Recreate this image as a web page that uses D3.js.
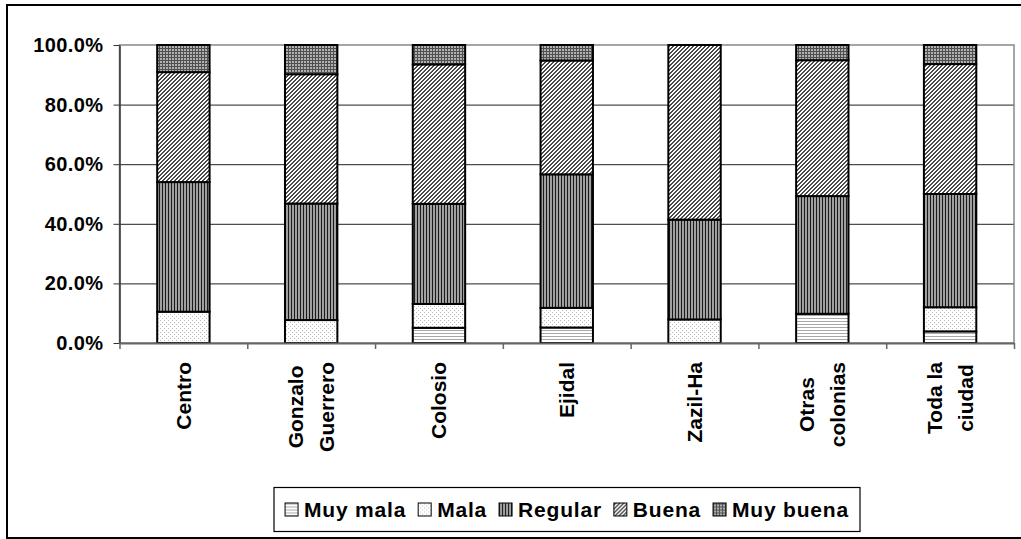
<!DOCTYPE html>
<html>
<head>
<meta charset="utf-8">
<script src="https://cdn.jsdelivr.net/npm/d3@7"></script>
<style>
  body { margin: 0; background: #fff; }
  svg, svg text { font-family: "Liberation Sans", Arial, sans-serif; }
</style>
</head>
<body>
<div id="chart"></div>
<script>
// Values in percent
const categories = ["Centro", "Gonzalo Guerrero", "Colosio", "Ejidal", "Zazil-Ha", "Otras colonias", "Toda la ciudad"];
const categoryLines = [["Centro"], ["Gonzalo", "Guerrero"], ["Colosio"], ["Ejidal"], ["Zazil-Ha"], ["Otras", "colonias"], ["Toda la", "ciudad"]];
const seriesNames = ["Muy mala", "Mala", "Regular", "Buena", "Muy buena"];
const muyMala = [0, 0, 5.1, 5.2, 0, 9.8, 3.9];
const mala = [10.5, 7.7, 8.0, 6.6, 7.9, 0, 8.1];
const regular = [43.5, 39.1, 33.6, 44.8, 33.5, 39.5, 38.0];
const buena = [36.9, 43.4, 46.8, 38.2, 58.6, 45.6, 43.6];
const muyBuena = [9.1, 9.8, 6.5, 5.2, 0, 5.1, 6.4];
const yTicks = [0, 0.2, 0.4, 0.6, 0.8, 1.0];

const W = 1021, H = 539;
const plot = { left: 119.5, right: 1014, top: 45, bottom: 343 };
const FONT = "'Liberation Sans', Arial, sans-serif";

const svg = d3.select("#chart").append("svg").attr("width", W).attr("height", H);
const defs = svg.append("defs");

// Excel-like fill patterns, one per series
function makePattern(id, w, h, bg, pixels, color) {
  const p = defs.append("pattern").attr("id", id)
    .attr("patternUnits", "userSpaceOnUse").attr("width", w).attr("height", h);
  p.append("rect").attr("width", w).attr("height", h).attr("fill", bg);
  pixels.forEach(function (px) {
    p.append("rect").attr("x", px[0]).attr("y", px[1])
      .attr("width", px[2] || 1).attr("height", px[3] || 1)
      .attr("fill", color).attr("shape-rendering", "crispEdges");
  });
}
makePattern("p0", 4, 3, "#fff", [[0, 0, 4, 1]], "#a8a8a8");
makePattern("p1", 4, 4, "#fff", [[0, 0], [2, 2]], "#b8b8b8");
makePattern("p2", 3, 4, "#a0a0a0", [[0, 0, 1, 4]], "#1a1a1a");
makePattern("p3", 4, 4, "#fff", [[0, 3], [1, 2], [2, 1], [3, 0], [0, 2], [1, 1], [2, 0], [3, 3]], "#4a4a4a");
makePattern("p4", 3, 3, "#b0b0b0", [[0, 0, 3, 1], [0, 0, 1, 3]], "#505050");
const fills = ["url(#p0)", "url(#p1)", "url(#p2)", "url(#p3)", "url(#p4)"];

// outer frame
svg.append("rect").attr("x", 7).attr("y", 5).attr("width", 1030).attr("height", 533)
  .attr("fill", "none").attr("stroke", "#000").attr("stroke-width", 2);

const x = d3.scaleBand().domain(categories).range([plot.left, plot.right])
  .paddingInner(0.59).paddingOuter(0.295);
const xEdge = d3.scaleLinear().domain([0, categories.length]).range([plot.left, plot.right]);
const y = d3.scaleLinear().domain([0, 1]).range([plot.bottom, plot.top]);

// gridlines
svg.append("g").attr("class", "grid")
  .attr("transform", "translate(" + plot.left + ",0)")
  .call(d3.axisLeft(y).tickValues(yTicks.slice(1, -1)).tickSize(-(plot.right - plot.left)).tickFormat(""))
  .call(function (g) { g.select(".domain").remove(); })
  .selectAll("line").attr("stroke", "#222").attr("stroke-width", 1);

// plot area border (top/right gray)
svg.append("rect").attr("x", plot.left).attr("y", plot.top)
  .attr("width", plot.right - plot.left).attr("height", plot.bottom - plot.top)
  .attr("fill", "none").attr("stroke", "#888").attr("stroke-width", 1.5);

// stacked data
const table = categories.map(function (c, i) {
  return { cat: c, "Muy mala": muyMala[i], "Mala": mala[i], "Regular": regular[i], "Buena": buena[i], "Muy buena": muyBuena[i] };
});
const stacked = d3.stack().keys(seriesNames)(table);

svg.append("g").selectAll("g").data(stacked).enter().append("g")
  .attr("fill", function (d, i) { return fills[i]; })
  .selectAll("rect").data(function (d) { return d.filter(function (s) { return s[1] - s[0] > 0; }); })
  .enter().append("rect")
  .attr("x", function (d) { return x(d.data.cat); })
  .attr("y", function (d) { return y(d[1] / 100); })
  .attr("width", x.bandwidth())
  .attr("height", function (d) { return y(d[0] / 100) - y(d[1] / 100); })
  .attr("stroke", "#000").attr("stroke-width", 2);

// y axis
const yAxis = svg.append("g").attr("transform", "translate(" + plot.left + ",0)")
  .call(d3.axisLeft(y).tickValues(yTicks).tickFormat(d3.format(".1%")).tickSize(6).tickSizeOuter(0).tickPadding(10));
yAxis.attr("font-family", FONT);
yAxis.select(".domain").attr("stroke", "#333").attr("stroke-width", 1.5);
yAxis.selectAll("line").attr("stroke", "#333");
yAxis.selectAll("text").attr("font-size", 20).attr("font-weight", "bold").attr("fill", "#000")
  .attr("font-family", FONT).attr("letter-spacing", 0.4);

// x axis ticks at category boundaries
const xAxis = svg.append("g").attr("transform", "translate(0," + plot.bottom + ")")
  .call(d3.axisBottom(xEdge).ticks(categories.length).tickFormat("").tickSize(6).tickSizeOuter(0));
xAxis.select(".domain").attr("stroke", "#666").attr("stroke-width", 2);
xAxis.selectAll("line").attr("stroke", "#666").attr("stroke-width", 1.5);

// category labels, rotated, lines centred on each other
const labelTop = 362, lineGap = 31;
categories.forEach(function (c, i) {
  const lines = categoryLines[i];
  const cx = x(c) + x.bandwidth() / 2;
  const g = svg.append("g");
  const texts = lines.map(function (l) {
    return g.append("text").text(l)
      .attr("font-family", FONT).attr("font-size", 21).attr("font-weight", "bold")
      .attr("text-anchor", "middle").attr("dy", "0.35em");
  });
  const maxLen = d3.max(texts, function (t) { return t.node().getComputedTextLength(); });
  const cy = labelTop + maxLen / 2;
  texts.forEach(function (t, j) {
    const lx = cx + (j - (lines.length - 1) / 2) * lineGap;
    t.attr("transform", "translate(" + lx + "," + cy + ") rotate(-90)");
  });
});

// legend
const legendBox = { x: 274, y: 487.5, w: 586, h: 44 };
svg.append("rect").attr("x", legendBox.x).attr("y", legendBox.y)
  .attr("width", legendBox.w).attr("height", legendBox.h)
  .attr("fill", "#fff").attr("stroke", "#000").attr("stroke-width", 1.2);
const legend = svg.append("g");
const sw = 13, swGap = 6, itemGap = 12;
const items = seriesNames.map(function (name, i) {
  const it = legend.append("g");
  it.append("rect").attr("width", sw).attr("height", sw).attr("y", -sw / 2)
    .attr("fill", fills[i]).attr("stroke", "#000").attr("stroke-width", 1);
  const t = it.append("text").text(name).attr("x", sw + swGap).attr("dy", "0.36em")
    .attr("font-family", FONT).attr("font-size", 21).attr("font-weight", "bold").attr("letter-spacing", 0.8);
  return { g: it, w: sw + swGap + t.node().getComputedTextLength() };
});
const totalW = d3.sum(items, function (d) { return d.w; }) + itemGap * (items.length - 1);
let cursor = legendBox.x + (legendBox.w - totalW) / 2;
items.forEach(function (d) {
  d.g.attr("transform", "translate(" + cursor + "," + (legendBox.y + legendBox.h / 2) + ")");
  cursor += d.w + itemGap;
});
</script>
</body>
</html>
